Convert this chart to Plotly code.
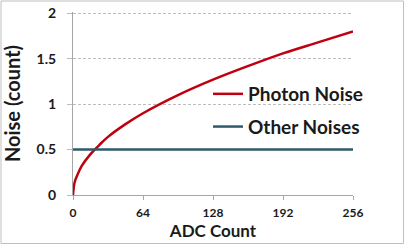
import plotly.graph_objects as go

adc = [0, 1, 2, 4, 8, 16, 24, 32, 48, 64, 96, 128, 160, 192, 224, 256]
photon_noise = [0, 0.11, 0.16, 0.22, 0.32, 0.45, 0.55, 0.64, 0.78, 0.9, 1.1, 1.27, 1.42, 1.56, 1.68, 1.8]
other_x = [0, 256]
other_noise = [0.5, 0.5]
x_ticks = [0, 64, 128, 192, 256]
y_ticks = [0, 0.5, 1, 1.5, 2]
y_labels = ["0", "0.5", "1", "1.5", "2"]

W, H = 405, 245
L, R, T, B = 73, 52, 12, 50
pw, ph = W - L - R, H - T - B

font = "Lato, 'Open Sans', sans-serif"

fig = go.Figure()
fig.add_trace(go.Scatter(x=adc, y=photon_noise, mode="lines", name="Photon Noise",
                         line=dict(color="#C00010", width=2.5, shape="spline"),
                         legendgroup="a"))
fig.add_trace(go.Scatter(x=other_x, y=other_noise, mode="lines", name="Other Noises",
                         line=dict(color="#2E5B6B", width=2.5), legendgroup="b"))

fig.update_layout(
    template="none",
    width=W, height=H,
    margin=dict(l=L, r=R, t=T, b=B, autoexpand=False),
    paper_bgcolor="white", plot_bgcolor="white",
    font=dict(family=font, color="#1a1a1a"),
    showlegend=True,
    legend=dict(x=(208 - L) / pw, y=(195 - 75) / ph, xanchor="left", yanchor="top",
                bgcolor="rgba(0,0,0,0)", font=dict(size=19, family=font, weight="bold"),
                itemwidth=30, tracegroupgap=5),
    xaxis=dict(range=[0, 256], tickvals=x_ticks, ticktext=[str(v) for v in x_ticks],
               automargin=False,
               showgrid=False, zeroline=False, showline=True, linecolor="#a6a6a6", linewidth=1,
               ticks="outside", ticklen=4, tickcolor="#a6a6a6", ticklabelstandoff=3,
               tickfont=dict(size=12, family=font, weight="bold"),
               title=dict(text="ADC Count", font=dict(size=17, family=font, weight="bold"), standoff=2)),
    yaxis=dict(range=[0, 2.015], tickvals=y_ticks, ticktext=y_labels,
               automargin=False,
               showgrid=True, gridcolor="#bdbdbd", griddash="3px,2px", gridwidth=1,
               zeroline=False, showline=True, linecolor="#a6a6a6", linewidth=1,
               ticks="outside", ticklen=5, tickcolor="#bdbdbd", ticklabelstandoff=8,
               tickfont=dict(size=14, family=font, weight="bold"),
               title=dict(text="Noise (count)", font=dict(size=20, family=font, weight="bold"), standoff=12)),
)

fig.add_shape(type="rect", xref="paper", yref="paper",
              x0=-(L - 1) / pw, x1=1 + (R - 1.5) / pw, y0=-(B - 1.5) / ph, y1=1 + (T - 1) / ph,
              line=dict(color="#bfbfbf", width=1), layer="below")

fig.write_html("out.html", config={"displayModeBar": False},
               post_script="document.body.style.margin='0';")
